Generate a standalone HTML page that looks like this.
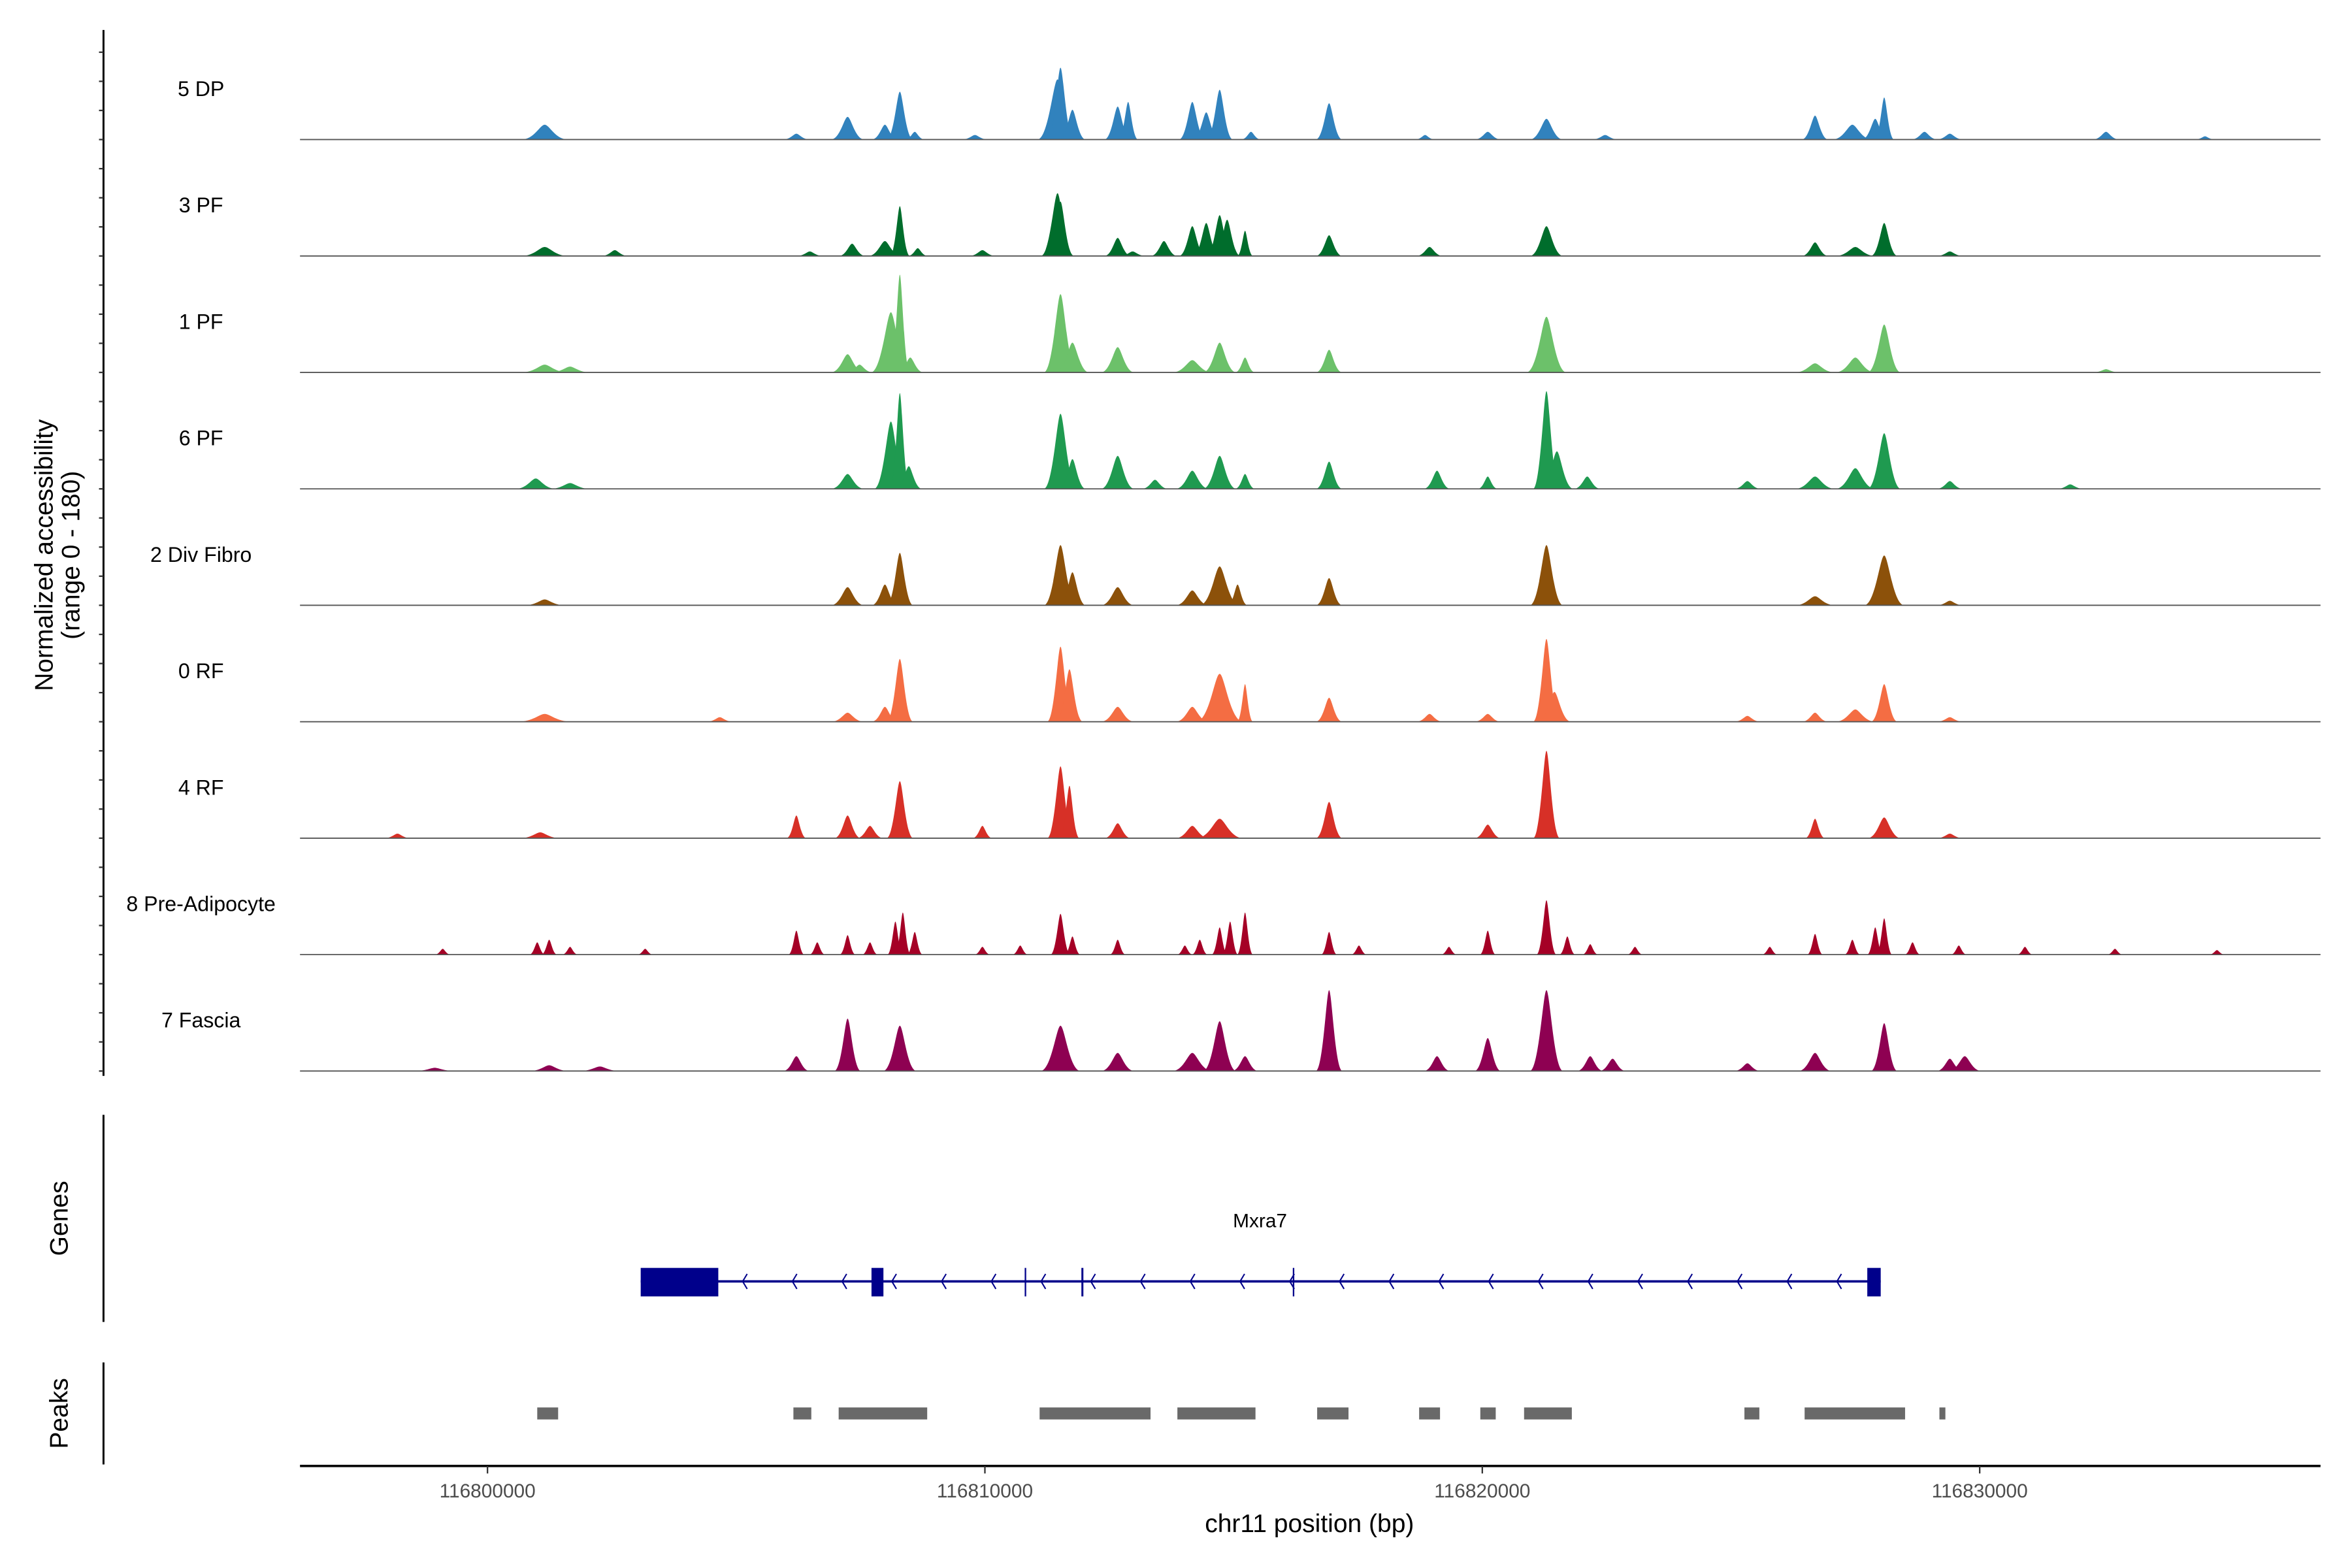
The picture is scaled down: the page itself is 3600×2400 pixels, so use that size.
<!DOCTYPE html>
<html><head><meta charset="utf-8"><style>
html,body{margin:0;padding:0;background:#fff;}
svg{display:block;font-family:"Liberation Sans",Arial,sans-serif;}
</style></head><body>
<svg id="chart" width="3600" height="2400" viewBox="0 0 1568 1045" preserveAspectRatio="none" xmlns="http://www.w3.org/2000/svg">
<rect x="0" y="0" width="1568" height="1045" fill="#fff"/>
<g id="tracks"></g>
<g id="axes"></g>
<g id="genes"></g>
<g id="peaks"></g>
<text transform="translate(35,370) rotate(-90)" text-anchor="middle" font-size="17" fill="#000">Normalized accessibility</text>
<text transform="translate(53,370) rotate(-90)" text-anchor="middle" font-size="17" fill="#000">(range 0 - 180)</text>
<text transform="translate(45,812) rotate(-90)" text-anchor="middle" font-size="17" fill="#000">Genes</text>
<text transform="translate(45,942) rotate(-90)" text-anchor="middle" font-size="17" fill="#000">Peaks</text>
<text x="873" y="1021" text-anchor="middle" font-size="17" fill="#000">chr11 position (bp)</text>
<text x="840" y="818" text-anchor="middle" font-size="13" fill="#000">Mxra7</text>
</svg>
<script>
// ---- data (positions in kb relative to 116,800,000; values in normalized accessibility 0-180) ----
const trackNames = ["5 DP","3 PF","1 PF","6 PF","2 Div Fibro","0 RF","4 RF","8 Pre-Adipocyte","7 Fascia"];
const trackColors = ["#3182bd","#006d2c","#6cc16a","#1f9a50","#8c510a","#f46d43","#d73027","#a50026","#8e0152"];
const dpPos = [1.15,6.21,7.24,7.99,8.29,8.59,9.80,11.46,11.52,11.76,12.67,12.88,14.17,14.45,14.72,15.35,16.92,18.85,20.11,21.29,22.47,26.69,27.44,27.90,28.08,28.89,29.40,32.54,34.53];
const dpVal = [23,9,35,23,74,12,7,93,111,46,51,58,58,42,77,12,56,7,12,32,7,37,23,32,65,12,9,12,5];
const dpWid = [0.35,0.2,0.25,0.2,0.2,0.15,0.2,0.3,0.2,0.2,0.2,0.15,0.2,0.2,0.2,0.15,0.2,0.15,0.2,0.25,0.2,0.2,0.3,0.2,0.15,0.2,0.2,0.2,0.15];
const pf3Pos = [1.15,2.56,6.48,7.33,7.99,8.29,8.65,9.95,11.46,11.52,12.67,12.97,13.60,14.17,14.45,14.72,14.87,15.23,16.92,18.94,21.29,26.69,27.50,28.08,29.40];
const pf3Val = [14,9,7,19,23,77,12,9,97,84,28,7,23,46,51,63,56,39,32,14,46,21,14,51,7];
const pf3Wid = [0.35,0.2,0.2,0.2,0.25,0.15,0.15,0.2,0.25,0.2,0.2,0.2,0.2,0.2,0.2,0.2,0.2,0.12,0.2,0.2,0.25,0.2,0.3,0.2,0.2];
const pf1Pos = [1.15,1.66,7.24,7.48,8.11,8.29,8.50,11.52,11.76,12.67,14.17,14.72,15.23,16.92,21.29,26.69,27.50,28.08,32.54];
const pf1Val = [12,9,28,12,93,151,23,121,46,39,19,46,23,35,86,14,23,74,5];
const pf1Wid = [0.35,0.3,0.25,0.2,0.3,0.15,0.2,0.25,0.25,0.25,0.3,0.25,0.15,0.2,0.3,0.3,0.3,0.25,0.2];
const pf6Pos = [0.97,1.66,7.24,8.11,8.29,8.47,11.52,11.76,12.67,13.42,14.17,14.72,15.23,16.92,19.09,20.11,21.29,21.50,22.11,25.33,26.69,27.50,28.08,29.40,31.82];
const pf6Val = [16,9,23,104,148,35,116,46,51,14,28,51,23,42,28,19,151,58,19,12,19,32,86,12,7];
const pf6Wid = [0.3,0.3,0.25,0.25,0.15,0.2,0.25,0.2,0.25,0.2,0.25,0.25,0.15,0.2,0.2,0.15,0.2,0.25,0.2,0.2,0.3,0.3,0.25,0.2,0.2];
const divPos = [1.15,7.24,7.99,8.29,11.52,11.76,12.67,14.17,14.72,15.08,16.92,21.29,26.69,28.08,29.40];
const divVal = [9,28,32,81,93,51,28,23,60,32,42,93,14,77,7];
const divWid = [0.3,0.25,0.2,0.2,0.25,0.2,0.25,0.25,0.3,0.15,0.2,0.25,0.3,0.3,0.2];
const rf0Pos = [1.15,4.67,7.24,7.99,8.29,11.52,11.70,12.67,14.17,14.72,15.23,16.92,18.94,20.11,21.29,21.45,25.33,26.69,27.50,28.08,29.40];
const rf0Val = [12,7,14,23,97,116,81,23,23,74,58,37,12,12,128,46,9,14,19,58,7];
const rf0Wid = [0.4,0.2,0.25,0.2,0.2,0.2,0.2,0.25,0.25,0.35,0.12,0.2,0.2,0.2,0.2,0.25,0.2,0.2,0.3,0.2,0.2];
const rf4Pos = [-1.81,1.06,6.21,7.24,7.69,8.29,9.95,11.52,11.70,12.67,14.17,14.72,16.92,20.11,21.29,26.69,28.08,29.40];
const rf4Val = [7,9,35,35,19,88,19,111,81,23,19,30,56,21,135,30,32,7];
const rf4Wid = [0.2,0.3,0.15,0.2,0.2,0.2,0.15,0.2,0.15,0.2,0.25,0.35,0.2,0.2,0.2,0.15,0.25,0.2];
const prePos = [-0.90,1.00,1.24,1.66,3.17,6.21,6.63,7.24,7.69,8.20,8.35,8.59,9.95,10.71,11.52,11.76,12.67,14.02,14.32,14.72,14.93,15.23,16.92,17.52,19.33,20.11,21.29,21.71,22.17,23.07,25.78,26.69,27.44,27.90,28.08,28.65,29.58,30.91,32.72,34.77];
const preVal = [9,19,23,12,9,37,19,30,19,51,65,35,12,14,63,28,23,14,23,42,51,65,35,14,12,37,84,28,16,12,12,32,23,42,56,19,14,12,9,7];
const preWid = [0.12,0.12,0.12,0.12,0.12,0.12,0.12,0.12,0.12,0.12,0.12,0.12,0.12,0.12,0.15,0.12,0.12,0.12,0.12,0.12,0.12,0.12,0.12,0.12,0.12,0.12,0.15,0.12,0.12,0.12,0.12,0.12,0.12,0.12,0.12,0.12,0.12,0.12,0.12,0.12];
const fasPos = [-1.06,1.24,2.26,6.21,7.24,8.29,11.52,12.67,14.17,14.72,15.23,16.92,19.09,20.11,21.29,22.17,22.62,25.33,26.69,28.08,29.40,29.70];
const fasVal = [5,9,7,23,81,70,70,28,28,77,23,125,23,51,125,23,19,12,28,74,19,23];
const fasWid = [0.3,0.3,0.3,0.2,0.2,0.25,0.3,0.25,0.3,0.25,0.2,0.2,0.2,0.2,0.25,0.2,0.2,0.2,0.25,0.2,0.2,0.25];
const xTicks = [0,10,20,30];
const xTickLabels = ["116800000","116810000","116820000","116830000"];
const geneExonStart = [3.08,7.72,10.80,11.94,16.19,27.74];
const geneExonEnd = [4.64,7.96,10.83,11.98,16.22,28.01];
const geneStart = 3.08, geneEnd = 28.01;
const peakStart = [1.00,6.15,7.06,11.10,13.87,16.68,18.73,19.96,20.84,25.27,26.48,29.19];
const peakEnd = [1.42,6.51,8.84,13.33,15.44,17.31,19.15,20.27,21.80,25.57,28.50,29.31];

const trackPos = [dpPos,pf3Pos,pf1Pos,pf6Pos,divPos,rf0Pos,rf4Pos,prePos,fasPos];
const trackVal = [dpVal,pf3Val,pf1Val,pf6Val,divVal,rf0Val,rf4Val,preVal,fasVal];
const trackWid = [dpWid,pf3Wid,pf1Wid,pf6Wid,divWid,rf0Wid,rf4Wid,preWid,fasWid];

// ---- scales ----
const X0 = 325, PXKB = 33.16, TRACK_H = 77.6, BASE0 = 93, YMAX = 180;
function xs(kb){ return X0 + kb*PXKB; }
function base(i){ return BASE0 + TRACK_H*i; }
function ys(i,v){ return base(i) - v*TRACK_H/YMAX; }
const NS = "http://www.w3.org/2000/svg";
function mk(tag, attrs, parent){ const e=document.createElementNS(NS,tag); for(const k in attrs) e.setAttribute(k,attrs[k]); parent.appendChild(e); return e; }

const gT = document.getElementById('tracks');
for(let i=0;i<trackNames.length;i++){
  const g = mk('g',{},gT);
  
  
  const lab = mk('text',{x:134,y:base(i)-29,'text-anchor':'middle','font-size':14,fill:'#000'},g);
  lab.textContent = trackNames[i];
  
  
  const P=trackPos[i], V=trackVal[i], W=trackWid[i];
  for(let j=0;j<P.length;j++){
    const c=xs(P[j]), hw=W[j]*PXKB*1.35, b=base(i), t=ys(i,V[j]);
    const d = `M${c-hw},${b} C${c-hw*0.45},${b} ${c-hw*0.2},${t} ${c},${t} C${c+hw*0.2},${t} ${c+hw*0.45},${b} ${c+hw},${b} Z`;
    const p = mk('path',{d:d,fill:trackColors[i]},g);
    
    
  }
  const bl = mk('line',{x1:200,x2:1547,y1:base(i),y2:base(i),stroke:'#555','stroke-width':0.8},g);
  
  
}

const gA = document.getElementById('axes');
const yl = mk('line',{x1:69,x2:69,y1:20,y2:717,stroke:'#000','stroke-width':1.3},gA);


for(let k=-3;k<=32;k++){
  const y = BASE0 + TRACK_H/4*k;
  if(y<20||y>716) continue;
  const t = mk('line',{x1:66,x2:69,y1:y,y2:y,stroke:'#333','stroke-width':1},gA);
  
  
}
const gl = mk('line',{x1:69,x2:69,y1:743,y2:881,stroke:'#000','stroke-width':1.3},gA);


const pl = mk('line',{x1:69,x2:69,y1:908,y2:976,stroke:'#000','stroke-width':1.3},gA);


const xl = mk('line',{x1:200,x2:1547,y1:977,y2:977,stroke:'#000','stroke-width':1.6},gA);


for(let k=0;k<xTicks.length;k++){
  const x=xs(xTicks[k]);
  const t=mk('line',{x1:x,x2:x,y1:977,y2:982,stroke:'#333','stroke-width':1},gA);
  
  
  const l=mk('text',{x:x,y:998,'text-anchor':'middle','font-size':13,fill:'#4d4d4d'},gA);
  l.textContent=xTickLabels[k];
  
  
}

const gG = document.getElementById('genes');
const gy = 854;
const intr = mk('line',{x1:xs(geneStart),x2:xs(geneEnd),y1:gy,y2:gy,stroke:'#00008b','stroke-width':1.6},gG);


for(let k=geneStart+2.08;k<geneEnd-0.5;k+=1){
  const x=xs(k);
  const ch=mk('path',{d:`M${x+2},${gy-5} L${x-1},${gy} L${x+2},${gy+5}`,fill:'none',stroke:'#00008b','stroke-width':0.9},gG);
  
  
}
for(let k=0;k<geneExonStart.length;k++){
  const x1=xs(geneExonStart[k]), x2=xs(geneExonEnd[k]);
  const r=mk('rect',{x:x1,y:845,width:Math.max(x2-x1,1),height:19,fill:'#00008b'},gG);
  
  
}

const gP = document.getElementById('peaks');
for(let k=0;k<peakStart.length;k++){
  const x1=xs(peakStart[k]), x2=xs(peakEnd[k]);
  const r=mk('rect',{x:x1,y:938,width:x2-x1,height:8,fill:'#696969'},gP);
  
  
}
</script>
</body></html>
